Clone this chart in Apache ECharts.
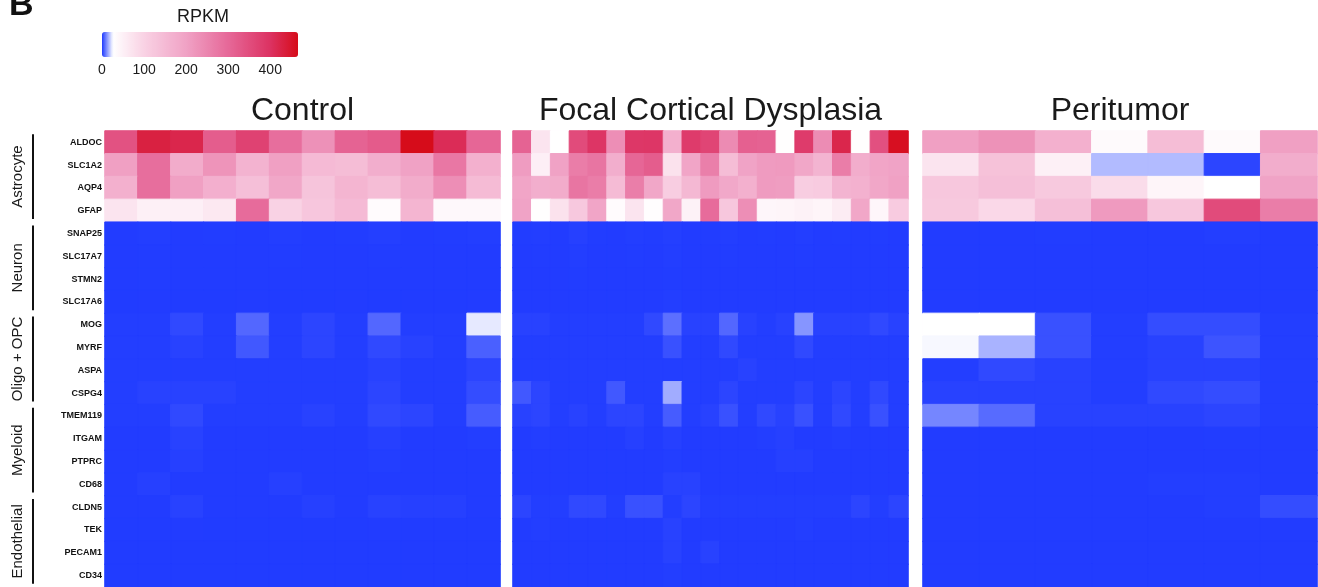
<!DOCTYPE html>
<html>
<head>
<meta charset="utf-8">
<title>RPKM heatmap</title>
<script src="https://cdn.jsdelivr.net/npm/echarts@6/dist/echarts.min.js"></script>
<style>
  html, body { margin: 0; padding: 0; background: #fff; }
  #chart { width: 1318px; height: 587px; }
</style>
</head>
<body>
<div id="chart"></div>
<script>
// genes, top to bottom, 4 per cell type
var genes = ['ALDOC', 'SLC1A2', 'AQP4', 'GFAP',
  'SNAP25', 'SLC17A7', 'STMN2', 'SLC17A6',
  'MOG', 'MYRF', 'ASPA', 'CSPG4',
  'TMEM119', 'ITGAM', 'PTPRC', 'CD68',
  'CLDN5', 'TEK', 'PECAM1', 'CD34']
var cellTypes = ['Astrocyte', 'Neuron', 'Oligo + OPC', 'Myeloid', 'Endothelial']
var panelTitles = ['Control', 'Focal Cortical Dysplasia', 'Peritumor']
var legendTicks = [0, 100, 200, 300, 400]
var rpkmMax = 466

// RPKM, one row per gene (same order as genes)
var control = [
  [340, 430, 420, 320, 370, 290, 230, 310, 325, 466, 410, 305],
  [205, 290, 180, 225, 165, 205, 150, 145, 175, 200, 275, 170],
  [170, 290, 205, 172, 140, 190, 130, 160, 145, 180, 235, 148],
  [70, 50, 52, 65, 295, 100, 125, 150, 32, 160, 38, 38],
  [0.3, 0.5, 0.3, 0.4, 0.3, 0.5, 0.3, 0.4, 0.6, 0.3, 0.4, 0.5],
  [0.3, 0.4, 0.3, 0.3, 0.3, 0.4, 0.3, 0.3, 0.4, 0.3, 0.3, 0.3],
  [0.3, 0.4, 0.3, 0.3, 0.3, 0.3, 0.3, 0.3, 0.3, 0.3, 0.3, 0.3],
  [0.2, 0.3, 0.2, 0.2, 0.3, 0.2, 0.2, 0.3, 0.2, 0.2, 0.2, 0.3],
  [0.5, 0.5, 2, 0.5, 6, 0.5, 1.5, 0.5, 6, 0.5, 0.5, 23],
  [0.5, 0.5, 1, 0.5, 4, 0.5, 1.5, 0.5, 2, 1, 0.5, 5],
  [0.5, 0.5, 0.5, 0.5, 0.5, 0.5, 0.5, 0.5, 1, 0.5, 0.5, 1.5],
  [0.5, 1, 1, 1, 0.5, 0.5, 0.5, 0.5, 1.5, 0.5, 0.5, 2.5],
  [0.5, 0.5, 2, 0.5, 0.5, 0.5, 1, 0.5, 2, 1.5, 0.5, 4.5],
  [0.3, 0.3, 1, 0.3, 0.3, 0.3, 0.3, 0.3, 0.8, 0.3, 0.3, 0.5],
  [0.3, 0.3, 0.8, 0.3, 0.3, 0.3, 0.3, 0.3, 0.5, 0.3, 0.3, 0.3],
  [0.3, 0.8, 0.3, 0.3, 0.3, 0.8, 0.3, 0.3, 0.3, 0.3, 0.3, 0.3],
  [0.3, 0.3, 1, 0.3, 0.3, 0.3, 0.8, 0.3, 1, 0.8, 0.8, 0.3],
  [0.2, 0.2, 0.3, 0.2, 0.2, 0.2, 0.2, 0.2, 0.3, 0.2, 0.2, 0.2],
  [0.2, 0.2, 0.2, 0.2, 0.2, 0.2, 0.2, 0.2, 0.2, 0.2, 0.2, 0.2],
  [0.2, 0.2, 0.2, 0.2, 0.2, 0.2, 0.2, 0.2, 0.2, 0.2, 0.2, 0.2]
]

var fcd = [
  [310, 70, 27, 355, 395, 235, 390, 393, 170, 385, 365, 240, 315, 312, 28, 385, 238, 420, 28, 345, 460],
  [210, 52, 200, 265, 278, 175, 305, 320, 75, 195, 260, 145, 198, 212, 215, 190, 162, 265, 178, 195, 198],
  [195, 175, 180, 278, 265, 148, 262, 190, 110, 155, 212, 188, 170, 212, 208, 110, 115, 162, 168, 190, 202],
  [198, 28, 75, 120, 195, 33, 70, 30, 190, 48, 295, 122, 235, 40, 43, 48, 42, 58, 190, 40, 115],
  [0.4, 0.5, 0.3, 0.8, 0.4, 0.3, 0.5, 0.4, 0.6, 0.3, 0.4, 0.5, 0.3, 0.4, 0.3, 0.5, 0.3, 0.4, 0.3, 0.4, 0.3],
  [0.3, 0.4, 0.3, 0.5, 0.3, 0.3, 0.4, 0.3, 0.5, 0.3, 0.3, 0.4, 0.3, 0.3, 0.3, 0.4, 0.3, 0.3, 0.3, 0.3, 0.3],
  [0.3, 0.3, 0.3, 0.4, 0.3, 0.3, 0.3, 0.3, 0.4, 0.3, 0.3, 0.3, 0.3, 0.3, 0.3, 0.3, 0.3, 0.3, 0.3, 0.3, 0.3],
  [0.3, 0.3, 0.3, 0.3, 0.3, 0.3, 0.3, 0.3, 0.5, 0.3, 0.3, 0.3, 0.3, 0.3, 0.3, 0.3, 0.3, 0.3, 0.3, 0.3, 0.3],
  [1, 1, 0.5, 0.5, 0.5, 0.5, 0.5, 2, 7, 1, 1, 6, 1, 0.5, 1, 12, 1, 1, 1, 2, 1],
  [0.5, 0.5, 0.5, 0.5, 0.5, 0.5, 0.5, 0.5, 3, 0.5, 0.5, 2, 0.5, 0.5, 0.5, 2, 0.5, 0.5, 0.5, 0.5, 0.5],
  [0.5, 0.5, 0.5, 0.5, 0.5, 0.5, 0.5, 0.5, 0.5, 0.5, 0.5, 0.5, 1, 0.5, 0.5, 0.5, 0.5, 0.5, 0.5, 0.5, 0.5],
  [4, 1.5, 0.5, 0.5, 0.5, 4, 0.5, 0.5, 15, 0.5, 0.5, 1.5, 0.5, 0.5, 0.5, 1.5, 0.5, 1.5, 0.5, 2, 0.5],
  [1, 1.5, 0.5, 1, 0.5, 1.5, 1.5, 0.5, 4.5, 0.5, 1, 3, 0.5, 2, 1, 3, 0.5, 2, 0.5, 3, 0.5],
  [0.3, 0.5, 0.3, 0.3, 0.3, 0.3, 0.8, 0.3, 0.8, 0.3, 0.3, 0.3, 0.3, 0.5, 0.8, 0.3, 0.3, 0.5, 0.3, 0.3, 0.3],
  [0.3, 0.3, 0.3, 0.3, 0.3, 0.3, 0.3, 0.3, 0.5, 0.3, 0.3, 0.3, 0.3, 0.3, 0.8, 0.8, 0.3, 0.3, 0.3, 0.3, 0.3],
  [0.3, 0.3, 0.3, 0.3, 0.3, 0.3, 0.3, 0.3, 1, 1, 0.3, 0.3, 0.3, 0.3, 0.3, 0.3, 0.3, 0.3, 0.3, 0.3, 0.3],
  [1.5, 0.5, 0.5, 2, 2, 0.5, 3, 3, 0.5, 1.5, 0.5, 0.5, 0.5, 0.5, 0.5, 0.5, 0.5, 0.5, 1.5, 0.5, 1.5],
  [0.3, 0.5, 0.3, 0.3, 0.3, 0.3, 0.3, 0.3, 1, 0.3, 0.3, 0.3, 0.3, 0.3, 0.3, 0.5, 0.3, 0.3, 0.3, 0.3, 0.3],
  [0.3, 0.3, 0.3, 0.3, 0.3, 0.3, 0.3, 0.3, 1, 0.3, 1, 0.3, 0.3, 0.3, 0.3, 0.3, 0.3, 0.3, 0.3, 0.3, 0.3],
  [0.3, 0.3, 0.3, 0.3, 0.3, 0.3, 0.3, 0.3, 0.5, 0.3, 0.3, 0.3, 0.3, 0.3, 0.3, 0.3, 0.3, 0.3, 0.3, 0.3, 0.3]
]

var peritumor = [
  [205, 228, 170, 35, 145, 35, 205],
  [70, 135, 50, 17, 17, 1.5, 178],
  [122, 140, 118, 85, 42, 27, 198],
  [118, 90, 140, 215, 122, 355, 265],
  [0.3, 0.3, 0.4, 0.3, 0.3, 0.5, 0.3],
  [0.3, 0.3, 0.3, 0.3, 0.3, 0.3, 0.3],
  [0.3, 0.3, 0.3, 0.3, 0.3, 0.3, 0.3],
  [0.3, 0.3, 0.3, 0.3, 0.3, 0.3, 0.3],
  [27, 26, 3, 0.5, 2.5, 2.5, 0.5],
  [25, 16, 3, 0.5, 1, 3.5, 0.5],
  [0.5, 2, 1, 0.5, 1, 1, 0.5],
  [1, 1, 1, 0.5, 2, 2.5, 0.5],
  [10, 6.5, 1, 1, 1, 1.5, 0.5],
  [0.3, 0.3, 0.3, 0.3, 0.3, 0.4, 0.3],
  [0.3, 0.3, 0.3, 0.3, 0.3, 0.3, 0.3],
  [0.3, 0.3, 0.3, 0.3, 0.5, 0.5, 0.3],
  [0.3, 0.3, 0.3, 0.3, 0.3, 0.5, 2.5],
  [0.3, 0.3, 0.3, 0.3, 0.3, 0.3, 0.3],
  [0.3, 0.3, 0.3, 0.3, 0.3, 0.3, 0.3],
  [0.3, 0.3, 0.3, 0.3, 0.3, 0.3, 0.3]
]

// colour ramp: blue at 0, white just above, pink -> red
var stopValues = [0, 26, 100, 200, 300, 400, 466]
var stopColors = ['#1f3aff', '#ffffff', '#f9d2e4', '#f0a2c5', '#e66898', '#dc3262', '#d60c1a']

function hexToRgb(h) {
  return [parseInt(h.slice(1, 3), 16), parseInt(h.slice(3, 5), 16), parseInt(h.slice(5, 7), 16)]
}
function colorAt(v) {
  var i = 0
  while (i < stopValues.length - 2 && v > stopValues[i + 1]) i++
  var t = (v - stopValues[i]) / (stopValues[i + 1] - stopValues[i])
  var a = hexToRgb(stopColors[i]), b = hexToRgb(stopColors[i + 1])
  var c = a.map(function (x, k) { return Math.round(x + (b[k] - x) * t) })
  return 'rgb(' + c.join(',') + ')'
}
var ramp = []
for (var v = 0; v <= rpkmMax; v += 2) ramp.push(colorAt(v))

// each cell gets a thin border in its own colour so no seams show between cells
function toCells(rows) {
  var out = []
  rows.forEach(function (row, g) {
    row.forEach(function (val, s) {
      out.push({ value: [s, g, val], itemStyle: { borderColor: colorAt(val), borderWidth: 1 } })
    })
  })
  return out
}
function sampleNames(prefix, n) {
  var a = []
  for (var i = 1; i <= n; i++) a.push(prefix + ' ' + i)
  return a
}

var panels = [control, fcd, peritumor]
var panelLeft = [105, 513, 923]
var panelWidth = [395, 395, 394]
var font = '"Liberation Sans", Arial, sans-serif'

var grids = panels.map(function (p, i) {
  return { left: panelLeft[i], top: 131, width: panelWidth[i], height: 456 }
})
grids.push({ left: 102, top: 57, width: 196, height: 1 })   // legend tick labels
grids.push({ left: 32, top: 131, width: 2, height: 456 })   // cell type brackets

var xAxes = panels.map(function (p, i) {
  return {
    type: 'category', gridIndex: i, position: 'top',
    data: sampleNames(panelTitles[i], p[0].length),
    axisLine: { show: false }, axisTick: { show: false }, axisLabel: { show: false },
    splitLine: { show: false },
    name: panelTitles[i], nameLocation: 'middle', nameGap: 4,
    nameTextStyle: { fontSize: 32, color: '#1a1a1a', fontFamily: font }
  }
})
xAxes.push({
  type: 'value', gridIndex: 3, min: 0, max: rpkmMax, interval: 100,
  axisLine: { show: false }, axisTick: { show: false }, splitLine: { show: false },
  axisLabel: {
    fontSize: 14, color: '#1a1a1a', margin: 5, fontFamily: font, showMaxLabel: false,
    formatter: function (val) { return legendTicks.indexOf(val) >= 0 ? String(val) : '' }
  }
})
xAxes.push({ type: 'value', gridIndex: 4, min: 0, max: 1, show: false })

var yAxes = panels.map(function (p, i) {
  return {
    type: 'category', gridIndex: i, data: genes, inverse: true,
    show: i === 0,
    axisLine: { show: false }, axisTick: { show: false }, splitLine: { show: false },
    axisLabel: { interval: 0, fontSize: 9, fontWeight: 'bold', color: '#111', margin: 3, fontFamily: font }
  }
})
yAxes.push({ type: 'value', gridIndex: 3, show: false })
yAxes.push({
  type: 'category', gridIndex: 4, data: cellTypes, inverse: true,
  axisLine: { show: false }, axisTick: { show: false },
  axisLabel: { interval: 0, hideOverlap: false, rotate: 90, fontSize: 15, color: '#1a1a1a', margin: 7, fontFamily: font }
})

var series = panels.map(function (p, i) {
  return {
    type: 'heatmap', xAxisIndex: i, yAxisIndex: i,
    data: toCells(p), silent: true, progressive: 0,
    emphasis: { disabled: true }
  }
})
series.push({
  type: 'bar', xAxisIndex: 4, yAxisIndex: 4, silent: true,
  data: cellTypes.map(function () { return 1 }),
  barWidth: '93%', itemStyle: { color: '#111' }
})

var chart = echarts.init(document.getElementById('chart'))
chart.setOption({
  backgroundColor: '#fff',
  animation: false,
  title: [
    { text: 'B', left: 9, top: -11, padding: 0,
      textStyle: { fontSize: 34, fontWeight: 'bold', color: '#111', fontFamily: font } },
    { text: 'RPKM', left: 177, top: 8, padding: 0,
      textStyle: { fontSize: 18, fontWeight: 'normal', color: '#1a1a1a', fontFamily: font } }
  ],
  grid: grids,
  xAxis: xAxes,
  yAxis: yAxes,
  visualMap: {
    type: 'continuous', min: 0, max: rpkmMax, calculable: false, hoverLink: false,
    orient: 'horizontal', left: 102, top: 32, padding: 0,
    itemWidth: 25, itemHeight: 196, seriesIndex: [0, 1, 2],
    inRange: { color: ramp }
  },
  series: series
})
</script>
</body>
</html>
